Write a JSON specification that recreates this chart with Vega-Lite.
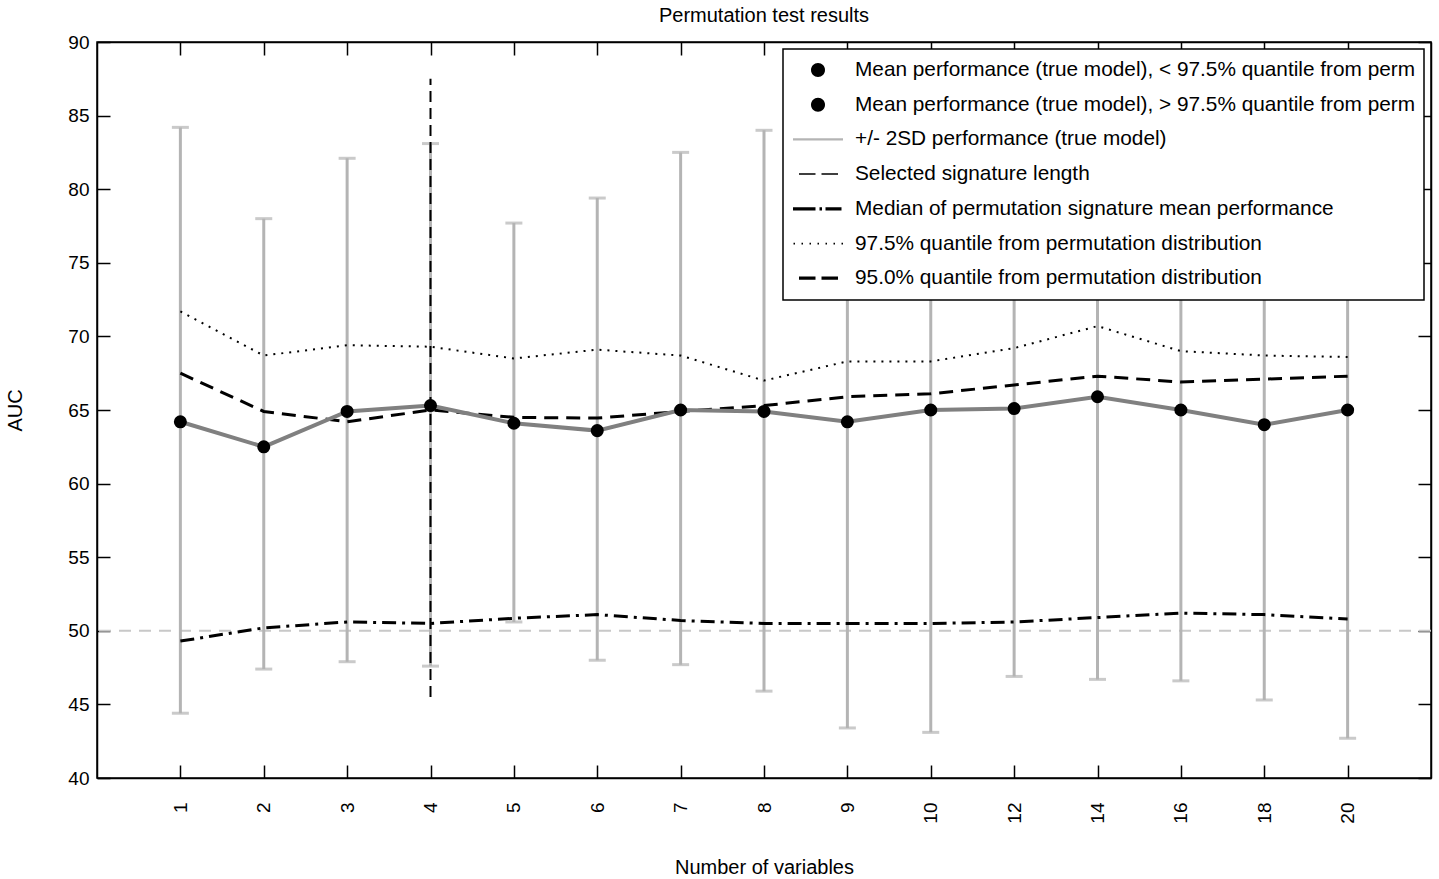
{
  "$schema": "https://vega.github.io/schema/vega-lite/v6.json",
  "width": 1334,
  "height": 736,
  "autosize": "none",
  "padding": {"left": 97, "top": 42, "right": 8, "bottom": 101},
  "title": {"text": "Permutation test results", "font": "Liberation Sans", "fontSize": 20, "fontWeight": "normal", "color": "black", "anchor": "middle", "offset": 7},
  "config": {
    "view": {"stroke": "black", "strokeWidth": 1.5},
    "axis": {
      "labelFont": "Liberation Sans", "labelFontSize": 19, "labelColor": "black",
      "titleFont": "Liberation Sans", "titleFontSize": 20, "titleFontWeight": "normal", "titleColor": "black",
      "domainColor": "black", "domainWidth": 1.5, "tickColor": "black", "tickWidth": 1.5, "tickSize": -13, "grid": false
    }
  },
  "datasets": {
    "perf": [
      {"n": "1", "mean": 64.2, "lo": 44.4, "hi": 84.2, "q975": 71.7, "q95": 67.5, "med": 49.3},
      {"n": "2", "mean": 62.5, "lo": 47.4, "hi": 78.0, "q975": 68.7, "q95": 64.9, "med": 50.2},
      {"n": "3", "mean": 64.9, "lo": 47.9, "hi": 82.1, "q975": 69.4, "q95": 64.2, "med": 50.6},
      {"n": "4", "mean": 65.3, "lo": 47.6, "hi": 83.1, "q975": 69.3, "q95": 65.0, "med": 50.5},
      {"n": "5", "mean": 64.1, "lo": 50.6, "hi": 77.7, "q975": 68.5, "q95": 64.5, "med": 50.85},
      {"n": "6", "mean": 63.6, "lo": 48.0, "hi": 79.4, "q975": 69.1, "q95": 64.45, "med": 51.1},
      {"n": "7", "mean": 65.0, "lo": 47.7, "hi": 82.5, "q975": 68.7, "q95": 64.9, "med": 50.7},
      {"n": "8", "mean": 64.9, "lo": 45.9, "hi": 84.0, "q975": 67.0, "q95": 65.3, "med": 50.5},
      {"n": "9", "mean": 64.2, "lo": 43.4, "hi": 85.0, "q975": 68.3, "q95": 65.9, "med": 50.5},
      {"n": "10", "mean": 65.0, "lo": 43.1, "hi": 86.9, "q975": 68.3, "q95": 66.1, "med": 50.5},
      {"n": "12", "mean": 65.1, "lo": 46.9, "hi": 83.3, "q975": 69.2, "q95": 66.7, "med": 50.6},
      {"n": "14", "mean": 65.9, "lo": 46.7, "hi": 85.1, "q975": 70.7, "q95": 67.3, "med": 50.9},
      {"n": "16", "mean": 65.0, "lo": 46.6, "hi": 83.4, "q975": 69.0, "q95": 66.9, "med": 51.2},
      {"n": "18", "mean": 64.0, "lo": 45.3, "hi": 82.7, "q975": 68.7, "q95": 67.1, "med": 51.1},
      {"n": "20", "mean": 65.0, "lo": 42.7, "hi": 87.3, "q975": 68.6, "q95": 67.3, "med": 50.8}
    ],
    "selected": [{"n": "4", "y1": 45.5, "y2": 87.5}],
    "chance": [{"auc": 50}]
  },
  "data": {"name": "perf"},
  "resolve": {"axis": {"x": "independent", "y": "independent"}},
  "layer": [
    {
      "data": {"name": "chance"},
      "mark": {"type": "rule", "color": "#c8c8c8", "strokeWidth": 2, "strokeDash": [12, 8]},
      "encoding": {
        "y": {"field": "auc", "type": "quantitative", "scale": {"domain": [40, 90], "nice": false},
          "axis": {"orient": "right", "labels": false, "title": null, "values": [40, 45, 50, 55, 60, 65, 70, 75, 80, 85, 90]}}
      }
    },
    {
      "mark": {"type": "rule", "strokeWidth": 3},
      "encoding": {
        "x": {"field": "n", "type": "ordinal", "sort": null,
          "scale": {"type": "point", "padding": 1, "domain": ["1", "2", "3", "4", "5", "6", "7", "8", "9", "10", "12", "14", "16", "18", "20"]},
          "axis": {"orient": "bottom", "title": "Number of variables", "labelAngle": -90, "labelPadding": 37, "titlePadding": 34}},
        "y": {"field": "lo", "type": "quantitative", "scale": {"domain": [40, 90], "nice": false},
          "axis": {"orient": "left", "title": "AUC", "labelPadding": 21, "titlePadding": 42, "values": [40, 45, 50, 55, 60, 65, 70, 75, 80, 85, 90]}},
        "y2": {"field": "hi"},
        "color": {"datum": "+/- 2SD performance (true model)", "type": "nominal",
          "scale": {
            "domain": [
              "Mean performance (true model), < 97.5% quantile from perm",
              "Mean performance (true model), > 97.5% quantile from perm",
              "+/- 2SD performance (true model)",
              "Selected signature length",
              "Median of permutation signature mean performance",
              "97.5% quantile from permutation distribution",
              "95.0% quantile from permutation distribution"
            ],
            "range": ["black", "black", "#b4b4b4", "black", "black", "black", "black"]
          },
          "legend": {
            "title": null, "orient": "top-right", "offset": 7,
            "fillColor": "white", "strokeColor": "black", "cornerRadius": 0, "padding": 8,
            "labelFont": "Liberation Sans", "labelFontSize": 20.8, "labelColor": "black", "labelLimit": 800,
            "symbolSize": 2500, "symbolStrokeWidth": 0, "symbolOffset": 2, "labelOffset": 12,
            "clipHeight": 26, "rowPadding": 8.7,
            "encode": {
              "legend": {"update": {"strokeWidth": {"value": 1.5}}},
              "symbols": {
                "update": {
                  "shape": {"signal": "['M-0.28,0A0.28,0.28,0,1,1,0.28,0A0.28,0.28,0,1,1,-0.28,0Z', 'M-0.28,0A0.28,0.28,0,1,1,0.28,0A0.28,0.28,0,1,1,-0.28,0Z', 'M-1,-0.045H1V0.045H-1Z', 'M-0.76,-0.03H-0.1V0.03H-0.76ZM0.14,-0.03H0.8V0.03H0.14Z', 'M-1,-0.065H-0.1V0.065H-1ZM0.06,-0.065H0.16V0.065H0.06ZM0.3,-0.065H0.94V0.065H0.3Z', 'M-0.98,-0.035H-0.92V0.035H-0.98ZM-0.66,-0.035H-0.6V0.035H-0.66ZM-0.34,-0.035H-0.28V0.035H-0.34ZM-0.02,-0.035H0.04V0.035H-0.02ZM0.3,-0.035H0.36V0.035H0.3ZM0.62,-0.035H0.68V0.035H0.62ZM0.94,-0.035H1V0.035H0.94Z', 'M-0.76,-0.065H-0.1V0.065H-0.76ZM0.14,-0.065H0.8V0.065H0.14Z'][datum.index]"},
                  "fill": {"signal": "datum.index == 2 ? '#b4b4b4' : 'black'"},
                  "stroke": {"value": "transparent"},
                  "opacity": {"value": 1}
                }
              }
            }
          }
        }
      }
    },
    {
      "mark": {"type": "tick", "thickness": 3, "size": 17, "orient": "horizontal"},
      "encoding": {
        "x": {"field": "n", "type": "ordinal", "sort": null, "axis": null},
        "y": {"field": "lo", "type": "quantitative", "axis": null},
        "color": {"datum": "+/- 2SD performance (true model)", "type": "nominal"}
      }
    },
    {
      "mark": {"type": "tick", "thickness": 3, "size": 17, "orient": "horizontal"},
      "encoding": {
        "x": {"field": "n", "type": "ordinal", "sort": null, "axis": {"orient": "top", "labels": false, "title": null}},
        "y": {"field": "hi", "type": "quantitative", "axis": null},
        "color": {"datum": "+/- 2SD performance (true model)", "type": "nominal"}
      }
    },
    {
      "mark": {"type": "line", "strokeWidth": 2, "strokeDash": [2, 6]},
      "encoding": {
        "x": {"field": "n", "type": "ordinal", "sort": null, "axis": null},
        "y": {"field": "q975", "type": "quantitative", "axis": null},
        "color": {"datum": "97.5% quantile from permutation distribution", "type": "nominal"}
      }
    },
    {
      "mark": {"type": "line", "strokeWidth": 3, "strokeDash": [14, 8]},
      "encoding": {
        "x": {"field": "n", "type": "ordinal", "sort": null, "axis": null},
        "y": {"field": "q95", "type": "quantitative", "axis": null},
        "color": {"datum": "95.0% quantile from permutation distribution", "type": "nominal"}
      }
    },
    {
      "mark": {"type": "line", "strokeWidth": 3, "strokeDash": [14, 6, 3, 6]},
      "encoding": {
        "x": {"field": "n", "type": "ordinal", "sort": null, "axis": null},
        "y": {"field": "med", "type": "quantitative", "axis": null},
        "color": {"datum": "Median of permutation signature mean performance", "type": "nominal"}
      }
    },
    {
      "data": {"name": "selected"},
      "mark": {"type": "rule", "strokeWidth": 2, "strokeDash": [11, 6]},
      "encoding": {
        "x": {"field": "n", "type": "ordinal", "sort": null, "axis": null},
        "y": {"field": "y1", "type": "quantitative", "axis": null},
        "y2": {"field": "y2"},
        "color": {"datum": "Selected signature length", "type": "nominal"}
      }
    },
    {
      "mark": {"type": "line", "strokeWidth": 4, "color": "#808080"},
      "encoding": {
        "x": {"field": "n", "type": "ordinal", "sort": null, "axis": null},
        "y": {"field": "mean", "type": "quantitative", "axis": null}
      }
    },
    {
      "mark": {"type": "point", "filled": true, "size": 170, "opacity": 1},
      "encoding": {
        "x": {"field": "n", "type": "ordinal", "sort": null, "axis": null},
        "y": {"field": "mean", "type": "quantitative", "axis": null},
        "color": {"datum": "Mean performance (true model), < 97.5% quantile from perm", "type": "nominal"}
      }
    }
  ]
}
